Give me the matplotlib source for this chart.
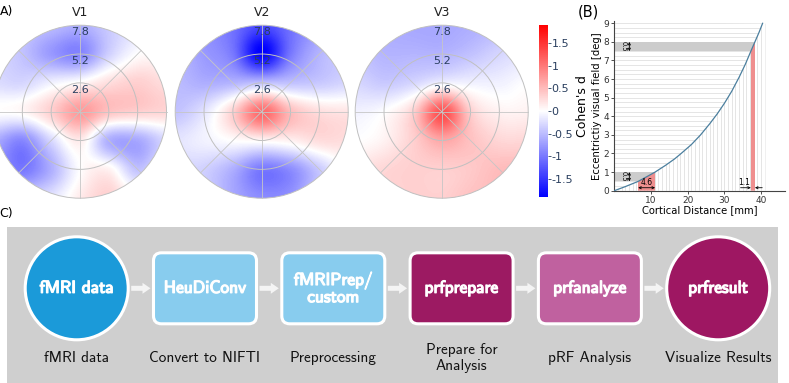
import numpy as np
import matplotlib.pyplot as plt
import matplotlib.patheffects as pe
from matplotlib.patches import Circle, FancyBboxPatch, Polygon, Rectangle, FancyArrow

# ---------------- data ----------------
# (A) Cohen's d maps, read on a 7x7 grid, x,y = -7.8 .. 7.8 deg (rows top -> bottom)
grid_deg = [-7.8, -5.2, -2.6, 0, 2.6, 5.2, 7.8]
ring_ecc = [2.6, 5.2, 7.8]
map_names = ["V1", "V2", "V3"]

v1_d = [
    [-0.3, -0.4, -0.5, -0.6, -0.4, -0.2, -0.1],
    [-0.3, -0.45, -0.75, -0.9, -0.35, 0.0, 0.05],
    [-0.25, -0.3, -0.1, 0.05, 0.25, 0.35, 0.25],
    [0.0, 0.05, 0.35, 0.75, 0.45, 0.35, 0.3],
    [-0.6, -0.9, -0.3, 0.15, -0.6, -0.65, -0.3],
    [-0.7, -1.0, -0.6, 0.0, 0.1, -0.45, -0.1],
    [-0.4, -0.35, -0.2, 0.15, 0.35, 0.1, 0.0],
]
v2_d = [
    [-0.7, -0.8, -1.05, -1.35, -1.05, -0.7, -0.5],
    [-0.55, -0.75, -1.0, -1.9, -1.0, -0.55, -0.4],
    [-0.5, -0.6, -0.55, -0.45, -0.45, -0.4, -0.3],
    [-0.45, -0.2, 0.35, 1.1, 0.5, 0.25, 0.2],
    [-0.2, -0.1, 0.0, 0.05, 0.1, 0.25, 0.25],
    [-0.3, -0.35, -0.6, -1.0, -0.85, -0.4, 0.0],
    [-0.3, -0.35, -0.65, -0.85, -0.8, -0.35, -0.2],
]
v3_d = [
    [-0.55, -0.6, -0.65, -0.65, -0.6, -0.5, -0.4],
    [-0.45, -0.55, -0.55, -0.55, -0.45, -0.3, -0.2],
    [-0.3, -0.4, -0.3, -0.1, -0.1, -0.1, 0.0],
    [-0.1, 0.0, 0.35, 1.3, 0.35, 0.1, 0.1],
    [0.0, 0.1, 0.35, 0.65, 0.45, 0.3, 0.3],
    [0.2, 0.3, 0.35, 0.35, 0.4, 0.5, 0.5],
    [0.3, 0.3, 0.35, 0.35, 0.45, 0.5, 0.5],
]
cbar_ticks = [1.5, 1, 0.5, 0, -0.5, -1, -1.5]
cbar_labels = ["1.5", "1", "0.5", "0", "-0.5", "-1", "-1.5"]

# (B) eccentricity vs cortical distance
cortical_mm = [0, 3.0, 6.5, 9.0, 11.1, 14.0, 16.5, 18.2, 21.0, 23.5, 26.0, 28.0,
               30.0, 32.0, 34.0, 35.7, 37.2, 38.3, 39.4, 40.4]
ecc_deg = [0, 0.22, 0.5, 0.77, 1.0, 1.37, 1.72, 2.0, 2.48, 3.0, 3.6, 4.12,
           4.7, 5.35, 6.1, 6.8, 7.5, 8.0, 8.5, 9.0]
ecc_bands = [(0.5, 1.0), (7.5, 8.0)]
mm_bands = [(6.5, 11.1), (37.2, 38.3)]
mm_labels = ["4.6", "1.1"]

# (C) pipeline
steps = ["fMRI data", "HeuDiConv", "fMRIPrep/\ncustom", "prfprepare", "prfanalyze", "prfresult"]
captions = ["fMRI data", "Convert to NIFTI", "Preprocessing", "Prepare for\nAnalysis",
            "pRF Analysis", "Visualize Results"]
shapes = ["circle", "box", "box", "box", "box", "circle"]
fills = ["#1b9ad9", "#88ccee", "#88ccee", "#9c1a62", "#c0619f", "#9e1762"]

# ---------------- figure ----------------
W, H = 789, 383
fig = plt.figure(figsize=(W / 100, H / 100), dpi=100)


def px_axes(x0, y0, x1, y1):
    return fig.add_axes([x0 / W, 1 - y1 / H, (x1 - x0) / W, (y1 - y0) / H])


# ---- panel A ----
txt_col = "#2a3f5f"
cy = 111.7
lim = 7.8 * 88 / 86.5
for cx, name, vals in zip([80, 261.7, 441.7], map_names, [v1_d, v2_d, v3_d]):
    ax = px_axes(cx - 88, cy - 88, cx + 88, cy + 88)
    im = ax.imshow(np.array(vals), cmap="bwr", vmin=-1.9, vmax=1.9,
                   extent=(-9.1, 9.1, -9.1, 9.1), interpolation="catrom", aspect="auto")
    im.set_clip_path(Circle((0, 0), 7.8, transform=ax.transData))
    for r in ring_ecc:
        ax.add_patch(Circle((0, 0), r, fill=False, ec="#c0c0c0", lw=0.7))
    for a in np.deg2rad(np.arange(0, 360, 45)):
        ax.plot([0, 7.8 * np.cos(a)], [0, 7.8 * np.sin(a)], color="#c6c6c6", lw=0.6)
    for r in ring_ecc:
        ax.text(0, r - 0.2, f"{r}", ha="center", va="top", fontsize=8, color=txt_col)
    ax.text(0, 8.95, name, ha="center", va="center", fontsize=9, color="#222222")
    ax.set_xlim(-lim, lim)
    ax.set_ylim(-lim, lim)
    ax.axis("off")

cax = px_axes(539, 25, 547.5, 197)
cb = fig.colorbar(im, cax=cax, ticks=cbar_ticks)
cb.ax.set_yticklabels(cbar_labels)
cb.outline.set_visible(False)
cax.tick_params(length=2, width=0.6, pad=1, labelsize=8, colors=txt_col)

# ---- panel B ----
axb = px_axes(614.3, 190.7 - 9.1 * 18.6, 785, 190.7)
above = Polygon(list(zip(cortical_mm, ecc_deg)) + [(0, 9.05)], closed=True,
                transform=axb.transData)
below = Polygon(list(zip(cortical_mm, ecc_deg)) + [(41.2, 9.0), (41.2, 0)], closed=True,
                transform=axb.transData)

hl = axb.hlines(np.arange(0.25, 9.01, 0.25), 0, 46, color="#dadada", lw=0.5, zorder=1)
hl.set_clip_path(above)
vl = axb.vlines(np.arange(1, 42), 0, 9, color="#dadada", lw=0.5, zorder=1)
vl.set_clip_path(below)

for lo, hi in ecc_bands:
    p = axb.axhspan(lo, hi, color="#cccccc", lw=0, zorder=2)
    p.set_clip_path(above)
for lo, hi in mm_bands:
    p = axb.axvspan(lo, hi, color="#ef8f8f", lw=0, zorder=2)
    p.set_clip_path(below)

axb.plot(cortical_mm, ecc_deg, color="#4b7f9e", lw=0.9, zorder=3)

arr = dict(arrowstyle="<->", lw=0.6, color="k", shrinkA=0, shrinkB=0, mutation_scale=4)
for lo, hi in ecc_bands:
    axb.annotate("", xy=(4.1, hi), xytext=(4.1, lo), arrowprops=arr, zorder=4)
    axb.text(2.6, (lo + hi) / 2, f"{hi - lo:.1f}", rotation=270, fontsize=4.8,
             ha="center", va="center", zorder=4)

lo, hi = mm_bands[0]
axb.annotate("", xy=(hi, 0.16), xytext=(lo, 0.16), arrowprops=arr, zorder=4)
axb.text((lo + hi) / 2, 0.45, mm_labels[0], fontsize=5.5, ha="center", va="center", zorder=4)
lo, hi = mm_bands[1]
one = dict(arrowstyle="->", lw=0.6, color="k", shrinkA=0, shrinkB=0, mutation_scale=4)
axb.annotate("", xy=(lo, 0.16), xytext=(lo - 2.8, 0.16), arrowprops=one, zorder=4)
axb.annotate("", xy=(hi, 0.16), xytext=(hi + 2.0, 0.16), arrowprops=one, zorder=4)
axb.text(lo - 1.8, 0.45, mm_labels[1], fontsize=5.5, ha="center", va="center", zorder=4)

axb.set_xlim(0, 46.5)
axb.set_ylim(0, 9.1)
axb.set_xticks([10, 20, 30, 40])
axb.set_yticks(range(10))
for s in ["top", "right"]:
    axb.spines[s].set_visible(False)
for s in ["left", "bottom"]:
    axb.spines[s].set_color("#444444")
    axb.spines[s].set_linewidth(0.8)
axb.tick_params(labelsize=6.5, length=2, pad=1.5, width=0.6, colors="#333333")
axb.set_xlabel("Cortical Distance [mm]", fontsize=7.2, labelpad=0.5)
axb.set_ylabel("Eccentrictiy visual field [deg]", fontsize=7.3, labelpad=1.5)

# ---- overlay: panel letters + panel C ----
axc = fig.add_axes([0, 0, 1, 1])
axc.set_xlim(0, W)
axc.set_ylim(H, 0)
axc.axis("off")

axc.text(7, 11, "A)", fontsize=9, ha="center", va="center")
axc.text(588, 12, "(B)", fontsize=10.5, ha="center", va="center")
axc.text(6, 213, "C)", fontsize=9, ha="center", va="center")
axc.text(582.5, 106, "Cohen's d", fontsize=9, rotation=90, ha="center", va="center")

axc.add_patch(Rectangle((7.5, 226.5), 771, 160, fc="#cfcfcf", ec="none"))
ny = 288.3
centers = [76.7 + i * 128.3 for i in range(len(steps))]
for cxn, label, cap, shape, fc in zip(centers, steps, captions, shapes, fills):
    if shape == "circle":
        axc.add_patch(Circle((cxn, ny), 51.5, fc=fc, ec="white", lw=2.2))
    else:
        axc.add_patch(FancyBboxPatch((cxn - 51.5, ny - 35.5), 103, 71,
                                     boxstyle="round,pad=0,rounding_size=8",
                                     fc=fc, ec="white", lw=2.2))
    axc.text(cxn, ny, label, ha="center", va="center", fontsize=12.5, color="white",
             family="cmss10", linespacing=1.1,
             path_effects=[pe.withStroke(linewidth=0.9, foreground="white")])
    axc.text(cxn, 358, cap, ha="center", va="center", fontsize=11, color="#111111",
             family="cmss10", linespacing=1.15)
for a, b in zip(centers[:-1], centers[1:]):
    axc.add_patch(FancyArrow(a + 54.5, ny, (b - a) - 109, 0, width=5, head_width=11,
                             head_length=8, length_includes_head=True,
                             fc="#f4f4f4", ec="none"))

fig.savefig("out.png", dpi=100)
